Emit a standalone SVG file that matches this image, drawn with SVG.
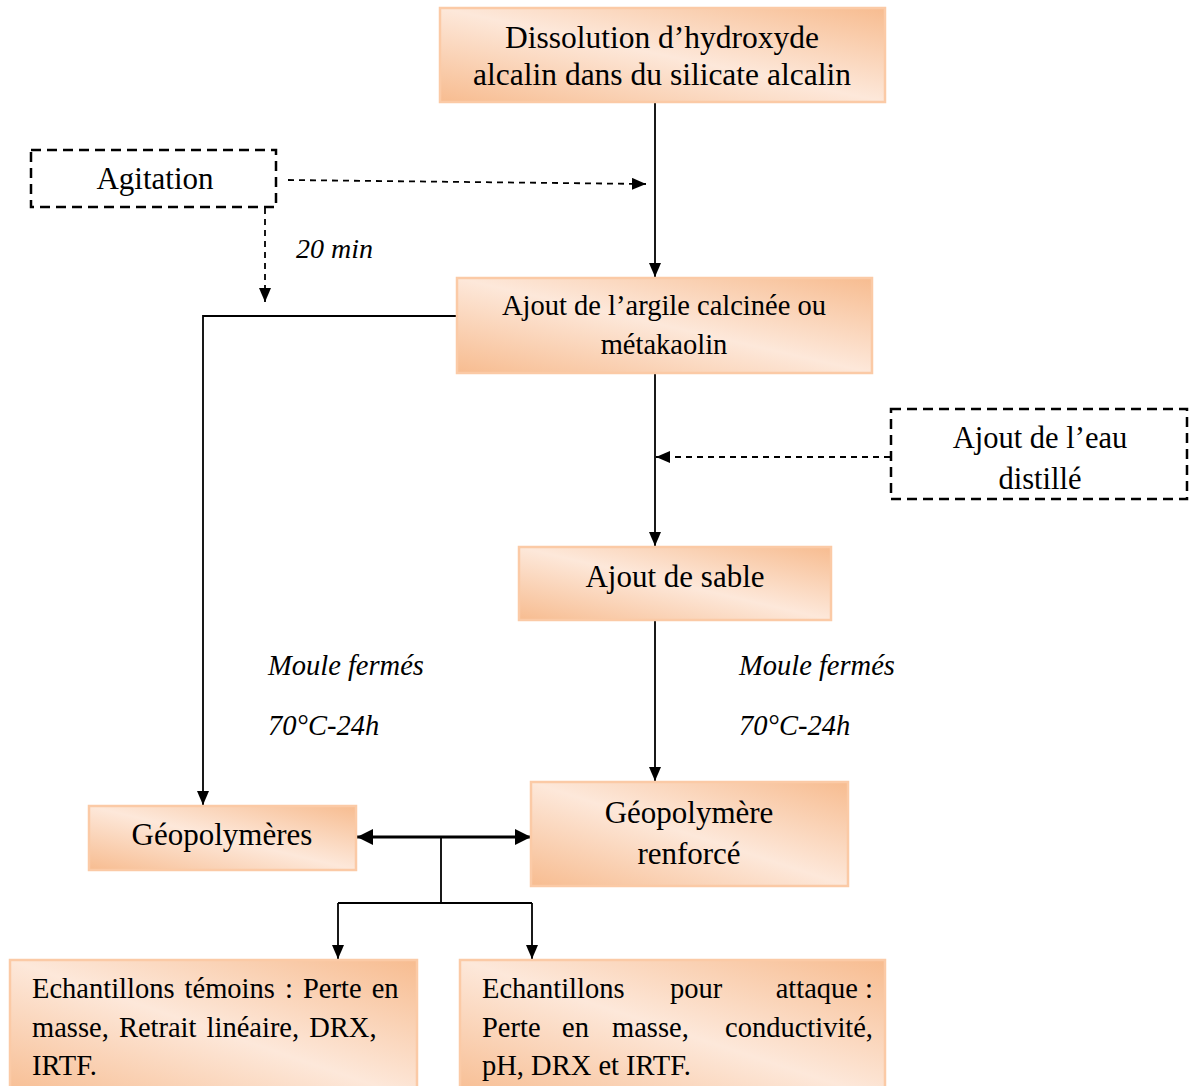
<svg xmlns="http://www.w3.org/2000/svg" width="1189" height="1086" viewBox="0 0 1189 1086">
<style>
.box{fill:url(#g);stroke:#fbcaa6;stroke-width:2.5}
.dbox{fill:#fff;stroke:#000;stroke-width:2.5;stroke-dasharray:10,6}
.t{font-family:"Liberation Serif","Times New Roman",serif;fill:#000}
.c{text-anchor:middle}
.i{font-style:italic}
.ln{fill:none;stroke:#000;stroke-width:1.8}
.dl{fill:none;stroke:#000;stroke-width:1.8;stroke-dasharray:6,5}
.ar{marker-end:url(#a)}
</style>
<defs>
<linearGradient id="g" x1="0" y1="1" x2="1" y2="0">
<stop offset="0" stop-color="#f7bc90"/>
<stop offset="0.5" stop-color="#fde8da"/>
<stop offset="1" stop-color="#f7bc90"/>
</linearGradient>
<marker id="a" markerUnits="userSpaceOnUse" markerWidth="14" markerHeight="12" refX="14" refY="6" orient="auto">
<path d="M0,0 L14,6 L0,12 z" fill="#000"/>
</marker>
<marker id="b" markerUnits="userSpaceOnUse" markerWidth="16" markerHeight="16" refX="16" refY="8" orient="auto-start-reverse">
<path d="M0,0 L16,8 L0,16 z" fill="#000"/>
</marker>
</defs>
<rect width="1189" height="1086" fill="#fff"/>
<g id="connectors">
<line class="ln ar" x1="655" y1="102" x2="655" y2="277"/>
<line class="dl ar" x1="288" y1="180" x2="646" y2="184"/>
<line class="dl ar" x1="265" y1="208" x2="265" y2="302"/>
<polyline class="ln ar" points="457,316 203,316 203,805"/>
<line class="ln ar" x1="655" y1="373" x2="655" y2="546"/>
<line class="dl ar" x1="890" y1="457" x2="656" y2="457"/>
<line class="ln ar" x1="655" y1="620" x2="655" y2="781"/>
<line x1="357" y1="837" x2="531" y2="837" stroke="#000" stroke-width="3" marker-start="url(#b)" marker-end="url(#b)"/>
<polyline class="ln" points="441,837 441,903"/>
<polyline class="ln" points="338,903 532,903"/>
<line class="ln ar" x1="338" y1="903" x2="338" y2="959"/>
<line class="ln ar" x1="532" y1="903" x2="532" y2="959"/>
</g>
<g id="n1">
<rect class="box" x="440" y="8" width="445" height="94"/>
<text class="t c" x="662" y="48" font-size="31.5">Dissolution d’hydroxyde</text>
<text class="t c" x="662" y="85" font-size="31.5">alcalin dans du silicate alcalin</text>
</g>
<g id="n-agitation">
<rect class="dbox" x="31" y="150" width="245" height="57"/>
<text class="t c" x="155" y="189" font-size="31">Agitation</text>
</g>
<g id="l-20min"><text class="t i" x="296" y="258" font-size="28">20 min</text></g>
<g id="n2">
<rect class="box" x="457" y="278" width="415" height="95"/>
<text class="t c" x="664" y="315" font-size="28.5">Ajout de l’argile calcinée ou</text>
<text class="t c" x="664" y="354" font-size="28.5">métakaolin</text>
</g>
<g id="n-eau">
<rect class="dbox" x="891" y="409" width="296" height="90"/>
<text class="t c" x="1040" y="448" font-size="30.5">Ajout de l’eau</text>
<text class="t c" x="1040" y="489" font-size="30.5">distillé</text>
</g>
<g id="n-sable">
<rect class="box" x="519" y="547" width="312" height="73"/>
<text class="t c" x="675" y="587" font-size="31">Ajout de sable</text>
</g>
<g id="l-moule1">
<text class="t i" x="268" y="675" font-size="28.5">Moule fermés</text>
<text class="t i" x="268" y="735" font-size="28.5">70°C-24h</text>
</g>
<g id="l-moule2">
<text class="t i" x="739" y="675" font-size="28.5">Moule fermés</text>
<text class="t i" x="739" y="735" font-size="28.5">70°C-24h</text>
</g>
<g id="n-geo">
<rect class="box" x="89" y="806" width="267" height="64"/>
<text class="t c" x="222" y="845" font-size="31">Géopolymères</text>
</g>
<g id="n-geor">
<rect class="box" x="531" y="782" width="317" height="104"/>
<text class="t c" x="689" y="823" font-size="31">Géopolymère</text>
<text class="t c" x="689" y="864" font-size="31">renforcé</text>
</g>
<g id="n-temoins">
<rect class="box" x="10" y="960" width="407" height="140"/>
<text class="t" x="32" y="998" font-size="28.5" word-spacing="3">Echantillons témoins : Perte en</text>
<text class="t" x="32" y="1037" font-size="28.5" word-spacing="3">masse, Retrait linéaire, DRX,</text>
<text class="t" x="32" y="1075" font-size="28.5">IRTF.</text>
</g>
<g id="n-attaque">
<rect class="box" x="460" y="960" width="425" height="140"/>
<text class="t" x="482" y="998" font-size="28.5">Echantillons</text>
<text class="t" x="670" y="998" font-size="28.5">pour</text>
<text class="t" x="873" y="998" font-size="28.5" text-anchor="end">attaque :</text>
<text class="t" x="482" y="1037" font-size="28.5">Perte</text>
<text class="t" x="562" y="1037" font-size="28.5">en</text>
<text class="t" x="612" y="1037" font-size="28.5">masse,</text>
<text class="t" x="873" y="1037" font-size="28.5" text-anchor="end">conductivité,</text>
<text class="t" x="482" y="1075" font-size="28.5">pH, DRX et IRTF.</text>
</g>
</svg>
